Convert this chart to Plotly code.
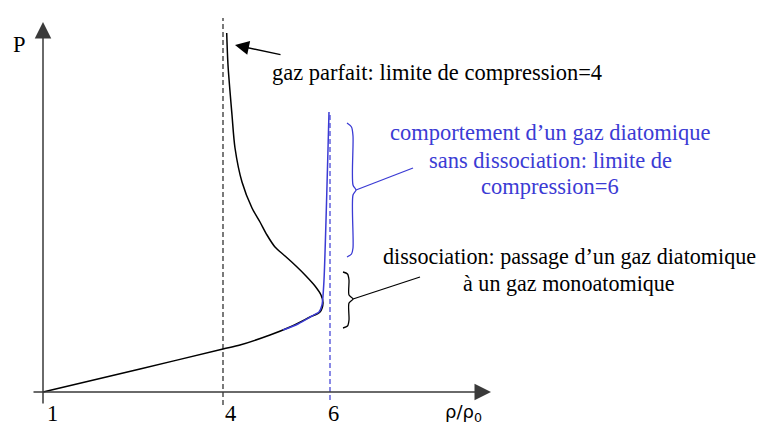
import plotly.graph_objects as go

# schematic units: 1 unit = 10 px, origin at the axes crossing
BLUE = "#3b3bd4"
SERIF = "Liberation Serif"

# Hugoniot curve (black) : rho/rho0 schematic position, pressure schematic value
hug_x = [0, 9.7, 18, 19.7, 22.7, 24.7, 26.7, 27.7, 28.0, 27.8, 27.2, 26.3, 25.3,
         24.2, 23.2, 22.4, 21.7, 20.9, 19.9, 19.2, 18.9, 18.5, 18.37]
hug_y = [0, 2.3, 4.3, 4.7, 5.7, 6.5, 7.5, 8.0, 8.9, 9.7, 10.6, 11.6, 12.6,
         13.6, 14.5, 15.7, 17.0, 18.4, 21.0, 24.4, 27.7, 32.7, 35.9]

# diatomic gas without dissociation (blue)
dia_x = [24.0, 25.5, 26.9, 27.6, 27.9, 28.1, 28.6]
dia_y = [6.2, 6.8, 7.6, 8.0, 8.7, 11.2, 28.0]

# compression limits
lim_black_x = 18.0
lim_black_y = [-1.3, 37.4]
lim_blue_x = 28.7
lim_blue_y = [-0.8, 28.0]

# braces
brace_blue_x = [30.4, 30.85, 31.0, 31.0, 31.3, 31.0, 31.0, 30.85, 30.4]
brace_blue_y = [26.9, 26.5, 25.6, 20.7, 20.2, 19.7, 14.4, 13.8, 13.5]
brace_blue_lead_x = [31.3, 37.0]
brace_blue_lead_y = [20.2, 22.4]
brace_black_x = [30.0, 30.45, 30.6, 30.6, 31.0, 30.6, 30.6, 30.45, 30.0]
brace_black_y = [12.0, 11.8, 11.2, 9.7, 9.3, 8.9, 7.2, 6.6, 6.4]
brace_black_lead_x = [31.0, 37.7]
brace_black_lead_y = [9.3, 11.5]

tick_labels = ["1", "4", "6"]
tick_label_x = [0.9, 18.7, 29.0]

blue_text = ["comportement d\u2019un gaz diatomique",
             "sans dissociation: limite de",
             "compression=6"]
blue_text_y = [26.0, 23.2, 20.6]
black_text = ["dissociation: passage d\u2019un gaz diatomique",
              "\u00e0 un gaz monoatomique"]
black_text_y = [13.6, 10.9]

fig = go.Figure()

fig.add_trace(go.Scatter(x=[lim_black_x, lim_black_x], y=lim_black_y, mode="lines",
                         line=dict(color="#222", width=1.2, dash="5px,3px")))
fig.add_trace(go.Scatter(x=[lim_blue_x, lim_blue_x], y=lim_blue_y, mode="lines",
                         line=dict(color=BLUE, width=1.2, dash="5px,3px")))
fig.add_trace(go.Scatter(x=hug_x, y=hug_y, mode="lines",
                         line=dict(color="black", width=1.5, shape="spline", smoothing=0.8)))
fig.add_trace(go.Scatter(x=dia_x, y=dia_y, mode="lines",
                         line=dict(color=BLUE, width=1.5, shape="spline", smoothing=0.6)))

fig.add_trace(go.Scatter(x=brace_blue_x, y=brace_blue_y, mode="lines",
                         line=dict(color=BLUE, width=1.3, shape="spline", smoothing=0.8)))
fig.add_trace(go.Scatter(x=brace_blue_lead_x, y=brace_blue_lead_y, mode="lines",
                         line=dict(color=BLUE, width=1.3)))
fig.add_trace(go.Scatter(x=brace_black_x, y=brace_black_y, mode="lines",
                         line=dict(color="black", width=1.3, shape="spline", smoothing=0.8)))
fig.add_trace(go.Scatter(x=brace_black_lead_x, y=brace_black_lead_y, mode="lines",
                         line=dict(color="black", width=1.3)))

# axes drawn as arrows
axis_col = "#3a3a3a"
fig.add_annotation(x=0, y=37.0, ax=0, ay=-1.3, xref="x", yref="y", axref="x", ayref="y",
                   showarrow=True, arrowhead=2, arrowsize=2.2, arrowwidth=1.5,
                   arrowcolor=axis_col, text="")
fig.add_annotation(x=44.8, y=0, ax=-1.1, ay=0, xref="x", yref="y", axref="x", ayref="y",
                   showarrow=True, arrowhead=2, arrowsize=2.2, arrowwidth=1.5,
                   arrowcolor=axis_col, text="")
# pointer to the curve top
fig.add_annotation(x=19.2, y=34.7, ax=23.9, ay=33.7, xref="x", yref="y", axref="x", ayref="y",
                   showarrow=True, arrowhead=2, arrowsize=2.0, arrowwidth=1.4,
                   arrowcolor="black", text="")

font = dict(family=SERIF, size=22.5, color="black")
fig.add_annotation(x=-2.4, y=34.8, text="P", showarrow=False, font=font)
for lab, xx in zip(tick_labels, tick_label_x):
    fig.add_annotation(x=xx, y=-2.1, text=lab, showarrow=False, font=font)
fig.add_annotation(x=42.0, y=-2.1, text="\u03c1/\u03c1<sub>0</sub>", showarrow=False,
                   font=dict(family="DejaVu Sans", size=18, color="black"))

fig.add_annotation(x=22.7, y=32.0, text="gaz parfait: limite de compression=4",
                   showarrow=False, xanchor="left", font=font)
for t, yy in zip(blue_text, blue_text_y):
    fig.add_annotation(x=50.7, y=yy, text=t, showarrow=False,
                       font=dict(family=SERIF, size=22.5, color=BLUE))
for t, yy in zip(black_text, black_text_y):
    fig.add_annotation(x=52.6, y=yy, text=t, showarrow=False,
                       font=dict(family=SERIF, size=22.1, color="black"))

# the page body adds an 8 px margin, so the figure is 8 px smaller and ranges start there
fig.update_layout(width=757, height=419, margin=dict(l=0, r=0, t=0, b=0),
                  paper_bgcolor="white", plot_bgcolor="white", showlegend=False,
                  xaxis=dict(range=[-3.5, 72.2], visible=False),
                  yaxis=dict(range=[-3.5, 38.4], visible=False))

fig.write_html("out.html")
